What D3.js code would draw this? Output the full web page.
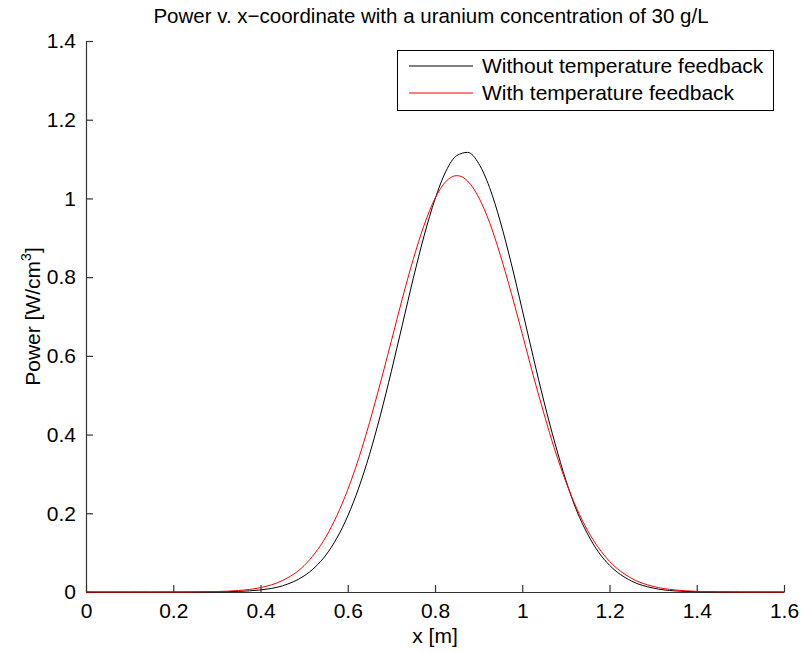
<!DOCTYPE html>
<html>
<head>
<meta charset="utf-8">
<script src="https://cdn.jsdelivr.net/npm/d3@7"></script>
<style>
  body { margin: 0; background: #fff; }
  text { font-family: "Liberation Sans", Arial, sans-serif; fill: #000; }
</style>
</head>
<body>
<div id="chart"></div>
<script>
var xVals = [0, 0.05, 0.1, 0.15, 0.2, 0.25, 0.3, 0.35, 0.4, 0.45, 0.5, 0.525, 0.55, 0.575,
  0.6, 0.625, 0.65, 0.675, 0.7, 0.725, 0.75, 0.775, 0.8, 0.825, 0.85, 0.875, 0.9, 0.925,
  0.95, 0.975, 1.0, 1.025, 1.05, 1.075, 1.1, 1.125, 1.15, 1.175, 1.2, 1.25, 1.3, 1.35,
  1.4, 1.45, 1.5, 1.55, 1.6];

// power without temperature feedback (W/cm^3)
var noFeedback = [0, 0, 0, 0, 0, 0.0001, 0.0004, 0.0016, 0.0053, 0.0156, 0.041, 0.063, 0.094, 0.137,
  0.193, 0.264, 0.350, 0.450, 0.561, 0.678, 0.796, 0.905, 0.998, 1.069, 1.109, 1.117, 1.089, 1.028,
  0.940, 0.834, 0.717, 0.598, 0.483, 0.378, 0.284, 0.206, 0.147, 0.101, 0.068, 0.028, 0.010, 0.0028,
  0.0008, 0.0002, 0, 0, 0];

// power with temperature feedback
var withFeedback = [0, 0, 0, 0, 0, 0.0003, 0.0012, 0.0038, 0.0112, 0.029, 0.067, 0.099, 0.140, 0.194,
  0.260, 0.339, 0.431, 0.532, 0.638, 0.745, 0.845, 0.932, 1.000, 1.043, 1.058, 1.044, 1.003, 0.939,
  0.855, 0.759, 0.656, 0.551, 0.452, 0.360, 0.280, 0.212, 0.156, 0.112, 0.078, 0.035, 0.0142, 0.0052,
  0.0017, 0.0005, 0.0001, 0, 0];

var xTicks = [0, 0.2, 0.4, 0.6, 0.8, 1, 1.2, 1.4, 1.6];
var yTicks = [0, 0.2, 0.4, 0.6, 0.8, 1, 1.2, 1.4];

var seriesNames = ["Without temperature feedback", "With temperature feedback"];
var seriesColors = ["#000000", "#ff0000"];

var width = 801, height = 653;
var mLeft = 86, mRight = 784, mTop = 41, mBottom = 592;

var svg = d3.select("#chart").append("svg")
    .attr("width", width)
    .attr("height", height);

var xScale = d3.scaleLinear().domain([0, 1.6]).range([mLeft, mRight]);
var yScale = d3.scaleLinear().domain([0, 1.4]).range([mBottom, mTop]);

// axes, ticks pointing inward like matlab
var xAxis = d3.axisBottom(xScale).tickValues(xTicks).tickSizeInner(-7).tickSizeOuter(0)
    .tickPadding(11).tickFormat(d3.format("~g"));
var yAxis = d3.axisLeft(yScale).tickValues(yTicks).tickSizeInner(-7).tickSizeOuter(0)
    .tickPadding(10).tickFormat(d3.format("~g"));

var gx = svg.append("g").attr("transform", "translate(0," + mBottom + ")").call(xAxis);
var gy = svg.append("g").attr("transform", "translate(" + mLeft + ",0)").call(yAxis);

[gx, gy].forEach(function(g) {
  g.selectAll("path, line").attr("stroke", "#333").attr("stroke-width", 1.2);
  g.selectAll("text").attr("font-size", 21).attr("font-family", "Liberation Sans, Arial, sans-serif");
});

// curves
var line = d3.line()
    .x(function(d) { return xScale(d[0]); })
    .y(function(d) { return yScale(d[1]); })
    .curve(d3.curveMonotoneX);

[noFeedback, withFeedback].forEach(function(vals, i) {
  svg.append("path")
      .datum(xVals.map(function(x, j) { return [x, vals[j]]; }))
      .attr("fill", "none")
      .attr("stroke", seriesColors[i])
      .attr("stroke-width", 1)
      .attr("d", line);
});

// title and labels
svg.append("text")
    .attr("x", 431)
    .attr("y", 23)
    .attr("text-anchor", "middle")
    .attr("font-size", 20.5)
    .text("Power v. x\u2212coordinate with a uranium concentration of 30 g/L");

svg.append("text")
    .attr("x", (mLeft + mRight) / 2)
    .attr("y", 643)
    .attr("text-anchor", "middle")
    .attr("font-size", 21)
    .text("x [m]");

var yLab = svg.append("text")
    .attr("transform", "translate(40," + ((mTop + mBottom) / 2) + ") rotate(-90)")
    .attr("text-anchor", "middle")
    .attr("font-size", 21);
yLab.append("tspan").text("Power [W/cm");
yLab.append("tspan").attr("font-size", 14).attr("dy", -9).text("3");
yLab.append("tspan").attr("dy", 9).text("]");

// legend
var legend = svg.append("g");
legend.append("rect")
    .attr("x", 397.5).attr("y", 50.5)
    .attr("width", 376).attr("height", 60)
    .attr("fill", "#fff").attr("stroke", "#000").attr("stroke-width", 1);

seriesNames.forEach(function(name, i) {
  var ly = 66 + i * 27;
  legend.append("line")
      .attr("x1", 409).attr("x2", 473)
      .attr("y1", ly).attr("y2", ly)
      .attr("stroke", seriesColors[i]).attr("stroke-width", 1);
  legend.append("text")
      .attr("x", 482).attr("y", ly + 7)
      .attr("font-size", 21)
      .text(name);
});
</script>
</body>
</html>
